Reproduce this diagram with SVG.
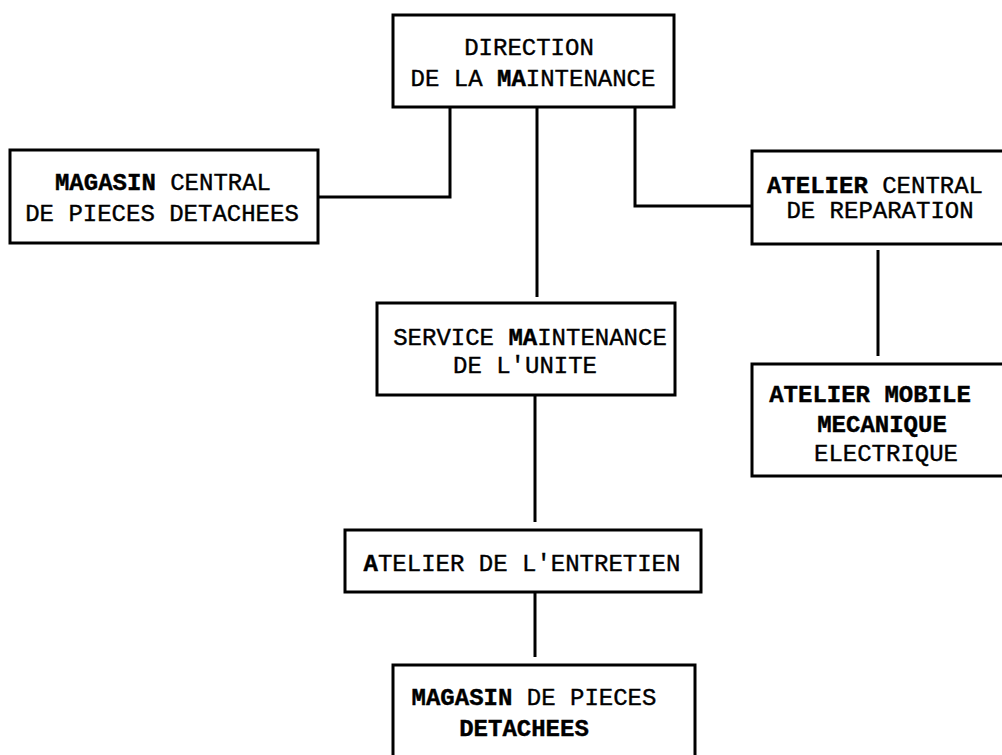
<svg xmlns="http://www.w3.org/2000/svg" width="1002" height="755" viewBox="0 0 1002 755">
<style>
.box{fill:#fff;stroke:#000;stroke-width:3}
.ln{fill:none;stroke:#000;stroke-width:3}
text{font-family:"Liberation Mono","DejaVu Sans Mono",monospace;font-size:24px;fill:#000;stroke:#000;stroke-width:0.4;text-anchor:middle}
.b{font-weight:bold}
</style>
<rect width="1002" height="755" fill="#fff"/>
<g id="connectors">
<path class="ln" d="M450,107 V197 H318"/>
<path class="ln" d="M537,107 V297"/>
<path class="ln" d="M635,107 V206 H752"/>
<path class="ln" d="M878,250 V356"/>
<path class="ln" d="M535,395 V522"/>
<path class="ln" d="M535,592 V657"/>
</g>
<g id="n-direction">
<rect class="box" x="393" y="15" width="281" height="92"/>
<text x="529" y="55">DIRECTION</text>
<text x="533" y="86">DE LA <tspan class="b">MA</tspan>INTENANCE</text>
</g>
<g id="n-magasin-central">
<rect class="box" x="10" y="150" width="308" height="93"/>
<text x="163" y="190"><tspan class="b">MAGASIN</tspan> CENTRAL</text>
<text x="162" y="221">DE PIECES DETACHEES</text>
</g>
<g id="n-atelier-central">
<rect class="box" x="752" y="151" width="270" height="93"/>
<text x="875" y="193"><tspan class="b">ATELIER</tspan> CENTRAL</text>
<text x="880" y="218">DE REPARATION</text>
</g>
<g id="n-service">
<rect class="box" x="377" y="303" width="298" height="92"/>
<text x="530" y="345">SERVICE <tspan class="b">MA</tspan>INTENANCE</text>
<text x="525" y="373">DE L'UNITE</text>
</g>
<g id="n-atelier-mobile">
<rect class="box" x="752" y="364" width="270" height="112"/>
<text x="870" y="402"><tspan class="b">ATELIER MOBILE</tspan></text>
<text x="882" y="432" class="b">MECANIQUE</text>
<text x="886" y="461">ELECTRIQUE</text>
</g>
<g id="n-atelier-entretien">
<rect class="box" x="345" y="530" width="356" height="62"/>
<text x="522" y="571"><tspan class="b">A</tspan>TELIER DE L'ENTRETIEN</text>
</g>
<g id="n-magasin-pieces">
<rect class="box" x="393" y="665" width="302" height="110"/>
<text x="534" y="705"><tspan class="b">MAGASIN</tspan> DE PIECES</text>
<text x="524" y="736" class="b">DETACHEES</text>
</g>
</svg>
